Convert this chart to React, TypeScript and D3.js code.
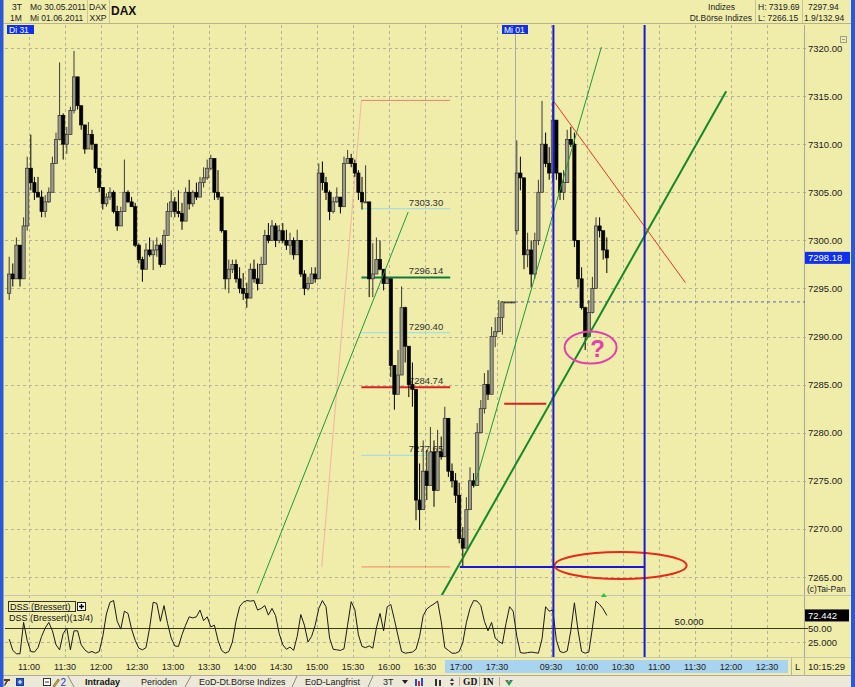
import React from "react";
import * as d3 from "d3";

// ---------- data ----------
// Day 1 (Di 31.05.2011) 3-minute candles starting 10:42, open = previous close
const day1Open = 7294.5;
const day1High = [
  7298.3, 7297.6, 7300.3, 7299.0, 7302.4, 7308.7, 7311.0, 7306.6, 7306.6, 7305.2,
  7304.7, 7305.5, 7308.7, 7311.2, 7318.5, 7313.2, 7311.8, 7313.9, 7319.69, 7316.0,
  7313.6, 7310.7, 7312.3, 7311.5, 7309.4, 7307.0, 7305.2, 7304.9, 7305.5, 7305.2,
  7303.6, 7303.5, 7308.4, 7305.2, 7304.5, 7303.9, 7299.7, 7298.3, 7299.7, 7300.3,
  7300.0, 7300.3, 7299.7, 7301.1, 7303.9, 7305.2, 7304.5, 7305.2, 7303.9, 7305.5,
  7306.3, 7305.2, 7306.0, 7306.6, 7307.6, 7308.4, 7308.9, 7307.6, 7307.3, 7304.2,
  7298.3, 7298.0, 7298.0, 7298.0, 7297.2, 7296.6, 7295.6, 7297.6, 7298.0, 7297.6,
  7298.3, 7301.1, 7301.8, 7302.1, 7301.8, 7301.6, 7301.8, 7301.1, 7300.8, 7300.3,
  7301.1, 7299.3, 7296.9, 7296.2, 7297.2, 7297.2, 7308.0, 7308.2, 7306.6, 7305.2,
  7304.5, 7305.5, 7304.5, 7308.7, 7309.4, 7309.0, 7308.4, 7307.3, 7306.6, 7307.8,
  7303.2, 7299.7, 7300.3, 7300.0, 7296.9, 7296.2, 7295.9, 7286.5, 7288.6, 7295.2,
  7293.1, 7287.6, 7287.3, 7282.7, 7276.8, 7279.2, 7278.2, 7280.6, 7279.2, 7280.3,
  7279.6, 7282.7, 7280.3, 7276.8, 7275.8, 7274.8, 7270.2, 7273.3, 7276.4, 7275.8,
  7281.0, 7283.4, 7286.2, 7286.5, 7291.0, 7292.0, 7293.8, 7293.7, 7293.6, 7293.6,
  7293.6,
];
const day1Low = [
  7293.8, 7295.2, 7297.2, 7295.2, 7298.0, 7301.0, 7305.2, 7304.2, 7304.5, 7302.4,
  7302.4, 7303.9, 7306.3, 7308.0, 7310.4, 7308.4, 7309.0, 7311.5, 7313.2, 7313.6,
  7311.5, 7309.0, 7309.7, 7309.4, 7307.0, 7305.0, 7303.2, 7303.5, 7304.2, 7302.8,
  7301.0, 7302.1, 7303.5, 7303.9, 7303.5, 7299.3, 7297.6, 7295.7, 7297.6, 7298.3,
  7296.9, 7298.3, 7297.2, 7298.0, 7301.1, 7302.4, 7302.4, 7302.4, 7301.1, 7303.2,
  7303.2, 7303.5, 7304.2, 7304.5, 7305.5, 7306.3, 7307.3, 7304.2, 7304.2, 7300.8,
  7294.9, 7294.5, 7296.6, 7295.6, 7294.5, 7293.8, 7293.0, 7294.8, 7295.6, 7294.8,
  7296.9, 7298.3, 7299.7, 7300.3, 7299.3, 7299.7, 7299.7, 7299.0, 7298.5, 7298.0,
  7299.3, 7296.2, 7294.3, 7294.8, 7295.9, 7295.6, 7296.9, 7305.2, 7304.2, 7302.1,
  7302.8, 7303.9, 7302.8, 7304.2, 7308.0, 7307.6, 7306.6, 7304.2, 7303.2, 7303.9,
  7294.1, 7294.1, 7297.6, 7296.9, 7294.8, 7295.6, 7285.8, 7282.4, 7284.4, 7288.6,
  7287.3, 7283.7, 7282.7, 7270.9, 7269.9, 7273.7, 7273.0, 7275.1, 7272.3, 7276.4,
  7277.2, 7280.0, 7275.4, 7274.3, 7272.7, 7268.5, 7266.15, 7269.6, 7273.0, 7274.3,
  7275.1, 7280.3, 7282.0, 7283.4, 7286.2, 7288.9, 7290.7, 7290.2, 7293.6, 7293.6,
  7293.6,
];
const day1Close = [
  7296.5, 7296.0, 7299.5, 7296.0, 7301.5, 7307.5, 7306.0, 7305.0, 7304.5, 7303.0,
  7304.0, 7305.0, 7308.0, 7310.5, 7313.0, 7310.0, 7311.0, 7313.5, 7317.0, 7314.0,
  7312.0, 7309.5, 7311.0, 7310.0, 7307.5, 7305.5, 7303.8, 7304.5, 7305.0, 7303.0,
  7301.5, 7303.0, 7305.0, 7304.0, 7303.5, 7299.5, 7298.0, 7297.0, 7299.0, 7298.5,
  7299.0, 7299.5, 7297.5, 7300.5, 7303.0, 7304.0, 7303.0, 7302.8, 7302.0, 7305.0,
  7303.8, 7305.0, 7304.5, 7306.0, 7306.5, 7307.5, 7308.5, 7305.0, 7304.5, 7301.0,
  7296.0, 7297.0, 7297.5, 7296.0, 7295.0, 7294.5, 7294.0, 7297.0, 7296.0, 7295.5,
  7297.5, 7300.5, 7300.0, 7301.5, 7300.0, 7301.0, 7300.0, 7299.5, 7300.0, 7298.5,
  7300.0, 7296.5, 7295.0, 7295.5, 7296.5, 7296.0, 7307.0, 7306.0, 7305.0, 7303.0,
  7304.0, 7304.5, 7303.5, 7308.0, 7308.5, 7308.0, 7307.0, 7305.0, 7304.0, 7304.0,
  7296.0, 7296.5, 7298.0, 7297.0, 7295.5, 7296.0, 7287.0, 7284.0, 7286.0, 7293.0,
  7289.0, 7285.0, 7284.5, 7273.0, 7272.0, 7276.0, 7274.5, 7278.0, 7274.0, 7278.0,
  7277.5, 7281.5, 7276.0, 7275.0, 7273.5, 7269.0, 7268.0, 7272.0, 7275.0, 7274.5,
  7280.0, 7282.5, 7285.0, 7284.0, 7290.0, 7290.5, 7292.0, 7293.6, 7293.6, 7293.6,
  7293.6,
];
// Day 2 (Mi 01.06.2011) 3-minute candles starting 09:00
const day2Open = 7301.0;
const day2High = [
  7310.4, 7308.7, 7302.8, 7300.8, 7300.0, 7300.8, 7306.3, 7314.5, 7311.2, 7309.7,
  7314.4, 7310.4, 7307.0, 7307.3, 7311.5, 7311.8, 7311.2, 7299.0, 7297.2, 7293.1,
  7293.8, 7296.2, 7302.4, 7302.4, 7300.8, 7300.3,
];
const day2Low = [
  7300.6, 7305.2, 7297.0, 7297.2, 7295.1, 7296.0, 7299.5, 7305.0, 7307.6, 7306.3,
  7306.0, 7306.3, 7304.2, 7304.2, 7306.0, 7309.7, 7299.3, 7295.1, 7292.8, 7288.6,
  7290.7, 7292.4, 7295.0, 7300.3, 7298.0, 7296.6,
];
const day2Close = [
  7307.0, 7306.5, 7298.5, 7299.0, 7296.5, 7300.0, 7305.0, 7310.0, 7308.0, 7307.0,
  7312.5, 7307.0, 7305.0, 7306.0, 7310.5, 7310.0, 7300.0, 7296.0, 7293.0, 7290.0,
  7292.5, 7295.0, 7301.5, 7301.0, 7299.0, 7298.18,
];
// DSS (Bressert)(13/4) per 3-minute slot
const dssDay1 = [
  30, 10, 4, 4, 60, 28, 8, 7, 15, 35,
  50, 60, 45, 20, 11, 40, 50, 11, 45, 45,
  20, 11, 6, 8, 5, 8, 35, 75, 96, 99,
  62, 48, 80, 76, 48, 28, 14, 11, 15, 50,
  96, 94, 62, 90, 58, 32, 18, 17, 38, 55,
  70, 68, 70, 82, 63, 70, 52, 55, 28, 10,
  5, 8, 25, 62, 88, 96, 99, 98, 99, 82,
  85, 90, 73, 85, 72, 40, 20, 12, 16, 10,
  35, 74, 55, 25, 35, 55, 85, 99, 88, 32,
  12, 11, 10, 13, 55, 97, 83, 38, 17, 15,
  18, 14, 50, 76, 45, 88, 92, 65, 36, 8,
  5, 6, 7, 12, 35, 72, 84, 89, 93, 98,
  62, 15, 10, 5, 5, 8, 24, 60, 85, 99,
  98, 90, 62, 45, 60, 32, 26, 22, 58, 88,
  80,
];
const dssDay2 = [
  35, 6, 5, 6, 7, 6, 5, 30, 88, 80,
  82, 28, 8, 6, 9, 45, 95, 46, 8, 5,
  7, 50, 98, 92, 84, 72.442,
];

const priceTicks = [7320, 7315, 7310, 7305, 7300, 7295, 7290, 7285, 7280, 7275, 7270, 7265];
const timeLabelsDay1 = ["11:00", "11:30", "12:00", "12:30", "13:00", "13:30", "14:00", "14:30", "15:00", "15:30", "16:00", "16:30", "17:00", "17:30"];
const timeLabelsDay2 = ["09:30", "10:00", "10:30", "11:00", "11:30", "12:00", "12:30"];
const fibLevels = [7303.3, 7296.14, 7290.4, 7284.74, 7277.65];
const fibHigh = 7314.55;
const fibLow = 7266.05;
const lastPrice = 7298.18;
const prevClose = 7293.6;
const lastDss = 72.442;

// trading minute: day1 10:00 -> 0, day1 17:45 == day2 09:00 -> 465
const tm = (day: number, hhmm: string): number => {
  const [h, m] = hhmm.split(":").map(Number);
  const mins = h * 60 + m;
  return day === 1 ? mins - 600 : mins - 540 + 465;
};

const FONT = "'Liberation Sans', Arial, sans-serif";
const BG = "#F0ECAA";

export default function App() {
  const x = d3.scaleLinear().domain([tm(1, "11:00"), tm(2, "12:30")]).range([29, 767]);
  const y = d3.scaleLinear().domain([7265, 7320]).range([577, 48]);
  const yd = d3.scaleLinear().domain([0, 100]).range([656, 600]);

  type C = { t: number; o: number; h: number; l: number; c: number };
  const candles: C[] = [];
  day1Close.forEach((c, i) =>
    candles.push({ t: tm(1, "10:42") + 3 * i, o: i === 0 ? day1Open : day1Close[i - 1], h: day1High[i], l: day1Low[i], c })
  );
  day2Close.forEach((c, i) =>
    candles.push({ t: tm(2, "09:00") + 3 * i, o: i === 0 ? day2Open : day2Close[i - 1], h: day2High[i], l: day2Low[i], c })
  );
  const dss = [...dssDay1, ...dssDay2].map((v, i) => ({ t: candles[i].t + 1.5, v }));
  const dssLine = d3.line<{ t: number; v: number }>().x((d) => x(d.t)).y((d) => yd(d.v));

  const timeTicks = [
    ...timeLabelsDay1.map((l) => ({ l, t: tm(1, l) })),
    ...timeLabelsDay2.map((l) => ({ l, t: tm(2, l) })),
  ];
  const dayBreak = x(tm(2, "09:00"));

  const fibStyles = [
    { stroke: "#A8E0DC", w: 1.2 },
    { stroke: "#0E7A3A", w: 2 },
    { stroke: "#A8E0DC", w: 1.2 },
    { stroke: "#D82020", w: 2 },
    { stroke: "#A8E0DC", w: 1.2 },
  ];
  const fibX0 = x(tm(1, "15:37"));
  const fibX1 = x(tm(1, "16:51"));

  const seg = (d1: number, t1: string, p1: number, d2: number, t2: string, p2: number) => ({
    x1: x(tm(d1, t1)), y1: y(p1), x2: x(tm(d2, t2)), y2: y(p2),
  });
  const green1 = seg(1, "14:10", 7263.3, 1, "16:16", 7302.95);
  const green2 = seg(1, "17:11", 7274.4, 2, "10:12", 7320.1);
  const green3 = seg(1, "16:44", 7263.1, 2, "11:56", 7315.5);
  const redDiag = seg(2, "09:32", 7314.5, 2, "11:22", 7295.6);
  const fibDiag = seg(1, "15:04", fibLow, 1, "15:37", fibHigh);
  const blueV1 = x(tm(2, "09:32"));
  const blueV2 = x(tm(2, "10:48"));
  const blueH = { x1: x(tm(1, "16:59")), x2: blueV2, y: y(7266.05) };
  const redShort = { x1: x(tm(1, "17:36")), x2: x(tm(2, "09:26")), y: y(7283.0) };
  const pinkEll = { cx: x(tm(2, "10:03")), cy: y(7288.86) };
  const redEll = { cx: x(tm(2, "10:28")), cy: y(7266.2) };

  const step = x(3) - x(0);
  const bw = step * 0.88;

  return (
    <svg width={855} height={687} style={{ position: "absolute", left: 0, top: 0, display: "block" }}>
      <defs>
        <clipPath id="main">
          <rect x={5} y={25} width={800} height={571} />
        </clipPath>
      </defs>
      <rect x={0} y={0} width={855} height={687} fill={BG} />

      {/* header */}
      <g fontFamily={FONT} fontSize={8.5} fill="#222">
        <text x={12} y={9.5}>3T</text>
        <text x={10} y={20.5}>1M</text>
        <text x={30} y={9.5}>Mo 30.05.2011</text>
        <text x={30} y={20.5}>Mi 01.06.2011</text>
        <text x={89} y={9.5}>DAX</text>
        <text x={89.5} y={20.5}>XXP</text>
        <text x={111} y={15} fontSize={12} fontWeight="bold" fill="#111">DAX</text>
        <text x={735} y={9.5} textAnchor="end">Indizes</text>
        <text x={752} y={20.5} textAnchor="end">Dt.Börse Indizes</text>
        <text x={758} y={9.5}>H: 7319.69</text>
        <text x={758} y={20.5}>L: 7266.15</text>
        <text x={808} y={9.5}>7297.94</text>
        <text x={804} y={20.5}>1.9/132.94</text>
      </g>
      <line x1={87.5} x2={87.5} y1={0} y2={23} stroke="#C8C49A" />
      <line x1={109.5} x2={109.5} y1={0} y2={23} stroke="#C8C49A" />
      <line x1={755.5} x2={755.5} y1={0} y2={23} stroke="#C8C49A" />
      <line x1={802.5} x2={802.5} y1={0} y2={23} stroke="#C8C49A" />
      <line x1={4} x2={851} y1={23.5} y2={23.5} stroke="#B8B48A" />

      {/* grid */}
      <g stroke="#B4B29A" strokeWidth={1} strokeDasharray="3,3">
        {priceTicks.map((p) => (
          <line key={p} x1={5} x2={808} y1={Math.round(y(p)) + 0.5} y2={Math.round(y(p)) + 0.5} />
        ))}
        {timeTicks.map((d, i) => (
          <line key={i} x1={Math.round(x(d.t)) + 0.5} x2={Math.round(x(d.t)) + 0.5} y1={25} y2={657} />
        ))}
        <line x1={5} x2={808} y1={Math.round(yd(25)) + 0.5} y2={Math.round(yd(25)) + 0.5} />
      </g>
      <line x1={Math.round(dayBreak) + 0.5} x2={Math.round(dayBreak) + 0.5} y1={25} y2={657} stroke="#A8A8A8" />
      <line x1={804.5} x2={804.5} y1={25} y2={657} stroke="#A8A89A" />

      {/* day labels */}
      <rect x={7} y={25} width={27} height={9} fill="#1030E8" />
      <text x={9} y={32.5} fontFamily={FONT} fontSize={8.5} fill="#fff">Di 31</text>
      <rect x={dayBreak - 13} y={25} width={26} height={9} fill="#1030E8" />
      <text x={dayBreak - 11} y={32.5} fontFamily={FONT} fontSize={8.5} fill="#fff">Mi 01</text>

      <g clipPath="url(#main)">
        {/* fibonacci */}
        <line {...fibDiag} stroke="#F2B4A4" strokeWidth={1} />
        <line x1={fibX0} x2={fibX1} y1={y(fibHigh)} y2={y(fibHigh)} stroke="#EE8070" strokeWidth={1} />
        <line x1={fibX0} x2={fibX1} y1={y(fibLow)} y2={y(fibLow)} stroke="#EE8A60" strokeWidth={1} />
        {fibLevels.map((p, i) => (
          <g key={p}>
            <line x1={fibX0} x2={fibX1} y1={y(p)} y2={y(p)} stroke={fibStyles[i].stroke} strokeWidth={fibStyles[i].w} />
            <text x={fibX1 - 7} y={y(p) - 3} textAnchor="end" fontFamily={FONT} fontSize={9.5} fill="#333">
              {p.toFixed(2)}
            </text>
          </g>
        ))}

        {/* previous close dotted line */}
        <line x1={dayBreak} x2={805} y1={y(prevClose)} y2={y(prevClose)} stroke="#5A64B8" strokeDasharray="3,3" />

        {/* candles */}
        {candles.map((d, i) => {
          const top = Math.max(d.o, d.c);
          const bot = Math.min(d.o, d.c);
          const hi = Math.max(d.h, top);
          const lo = Math.min(d.l, bot);
          const up = d.c >= d.o;
          const cx = x(d.t + 1.5);
          return (
            <g key={i}>
              <line x1={cx} x2={cx} y1={y(hi)} y2={y(lo)} stroke={up ? "#3A3A3A" : "#000"} strokeWidth={1} />
              <rect
                x={cx - bw / 2}
                width={bw}
                y={y(top)}
                height={Math.max(1, y(bot) - y(top))}
                fill={up ? "#9C9A88" : "#000"}
                stroke={up ? "#303030" : "#000"}
                strokeWidth={0.7}
              />
            </g>
          );
        })}

        {/* trend lines */}
        <line {...green1} stroke="#1E9A3A" strokeWidth={1} />
        <line {...green2} stroke="#1E9A3A" strokeWidth={1} />
        <line {...green3} stroke="#15882A" strokeWidth={2} />
        <line {...redDiag} stroke="#E83A24" strokeWidth={1} />
        <line x1={redShort.x1} x2={redShort.x2} y1={redShort.y} y2={redShort.y} stroke="#D82020" strokeWidth={2} />
        <line x1={blueH.x1} x2={blueH.x2} y1={blueH.y} y2={blueH.y} stroke="#1818D8" strokeWidth={2} />

        {/* annotations */}
        <ellipse cx={pinkEll.cx} cy={pinkEll.cy} rx={26} ry={16} fill="none" stroke="#E040B0" strokeWidth={2} />
        <text x={pinkEll.cx + 7} y={pinkEll.cy + 9} textAnchor="middle" fontFamily={FONT} fontWeight="bold" fontSize={24} fill="#E040B0">?</text>
        <ellipse cx={redEll.cx} cy={redEll.cy} rx={66} ry={13.5} fill="none" stroke="#E82818" strokeWidth={2} />
      </g>

      {/* panel separator */}
      <line x1={4} x2={851} y1={595.5} y2={595.5} stroke="#C8C6A8" />

      {/* DSS panel */}
      <line x1={5} x2={808} y1={Math.round(yd(50)) + 0.5} y2={Math.round(yd(50)) + 0.5} stroke="#3A3A1A" strokeWidth={1} />
      <path d={dssLine(dss) || ""} fill="none" stroke="#1A1A1A" strokeWidth={1} />
      <path d={`M${x(tm(2, "10:14")) - 3},${597} l3,-4 l3,4 z`} fill="#2EC040" />
      <text x={x(tm(2, "11:13"))} y={yd(50) - 3} fontFamily={FONT} fontSize={9.5} fill="#222">50.000</text>
      <rect x={8.5} y={601.5} width={67} height={10} fill="none" stroke="#333" strokeWidth={1} />
      <text x={10} y={610} fontFamily={FONT} fontSize={9} fill="#111">DSS (Bressert)</text>
      <rect x={77.5} y={602.5} width={8} height={8} fill="#fff" stroke="#222" />
      <path d="M79,606.5 h5 M81.5,604 v5" stroke="#000" strokeWidth={1.4} />
      <text x={9} y={620.5} fontFamily={FONT} fontSize={9} fill="#111">DSS (Bressert)(13/4)</text>

      {/* blue verticals */}
      <line x1={blueV1} x2={blueV1} y1={25} y2={657} stroke="#1818D8" strokeWidth={2} />
      <line x1={blueV2} x2={blueV2} y1={25} y2={657} stroke="#1818D8" strokeWidth={2} />

      {/* right price axis */}
      <g fontFamily={FONT} fontSize={9.5} fill="#222">
        {priceTicks.map((p) => (
          <text key={p} x={808} y={y(p) + 3.5}>{p.toFixed(2)}</text>
        ))}
        <text x={807} y={592} fontSize={8.5}>(c)Tai-Pan</text>
        <text x={808} y={yd(50) + 3.5}>50.00</text>
        <text x={808} y={yd(25) + 3.5}>25.000</text>
      </g>
      <rect x={805} y={y(lastPrice) - 6} width={45} height={12} fill="#1030F0" />
      <text x={808} y={y(lastPrice) + 3.5} fontFamily={FONT} fontSize={9.5} fill="#fff">{lastPrice.toFixed(2)}</text>
      <rect x={805} y={yd(lastDss) - 6} width={44} height={12} fill="#000" />
      <text x={808} y={yd(lastDss) + 3.5} fontFamily={FONT} fontSize={9.5} fill="#fff">{lastDss.toFixed(3)}</text>
      <rect x={840.5} y={36.5} width={6} height={6} fill="none" stroke="#A0A090" />
      <line x1={842} x2={845} y1={39.5} y2={39.5} stroke="#A0A090" />

      {/* time axis */}
      <line x1={4} x2={851} y1={657.5} y2={657.5} stroke="#C8C6A8" />
      <rect x={445} y={660} width={343} height={13} fill="#A8D4F0" />
      <g fontFamily={FONT} fontSize={9} fill="#222" textAnchor="middle">
        {timeTicks.map((d, i) => (
          <text key={i} x={x(d.t)} y={670}>{d.l}</text>
        ))}
      </g>
      <line x1={791.5} x2={791.5} y1={658} y2={675} stroke="#B8B6A0" />
      <text x={795} y={670} fontFamily={FONT} fontSize={9.5} fill="#222">L</text>
      <line x1={804.5} x2={804.5} y1={658} y2={675} stroke="#B8B6A0" />
      <text x={808} y={670} fontFamily={FONT} fontSize={9.5} fill="#222">10:15:29</text>

      {/* bottom tab bar */}
      <rect x={0} y={675} width={855} height={12} fill="#ECE9D8" />
      <line x1={0} x2={855} y1={675.5} y2={675.5} stroke="#B0AC98" />
      <g>
        <path d="M4,679 l6,0 l0,2 l-2,0 l-3,5 l-1,-1 l2,-4 l-2,0 z" fill="#5A3A10" />
        <rect x={16.5} y={678.5} width={7} height={7} fill="#2A5AD0" stroke="#1A3A90" />
        <path d="M18,682 h4 M20,680 v4" stroke="#fff" strokeWidth={1} />
        <rect x={43.5} y={678.5} width={7} height={7} fill="#fff" stroke="#333" />
        <line x1={45} x2={49} y1={682} y2={682} stroke="#333" />
        <path d="M53,686 l5,-7 l1.5,1 l-5,7 z" fill="#D8B020" stroke="#333" strokeWidth={0.5} />
        <text x={60.5} y={685.5} fontFamily={FONT} fontSize={10} fill="#2040C0">2</text>
        <line x1={68} x2={74} y1={676} y2={687} stroke="#8A8878" />
        <text x={85} y={685} fontFamily={FONT} fontSize={9} fontWeight="bold" fill="#111">Intraday</text>
        <text x={141} y={685} fontFamily={FONT} fontSize={9} fill="#222">Perioden</text>
        <line x1={185} x2={191} y1={687} y2={676} stroke="#8A8878" />
        <text x={199} y={685} fontFamily={FONT} fontSize={9} fill="#222">EoD-Dt.Börse Indizes</text>
        <line x1={292} x2={297} y1={687} y2={676} stroke="#8A8878" />
        <text x={305} y={685} fontFamily={FONT} fontSize={9} fill="#222">EoD-Langfrist</text>
        <line x1={368} x2={373} y1={687} y2={676} stroke="#8A8878" />
        <text x={383} y={685} fontFamily={FONT} fontSize={9} fill="#222">3T</text>
        <path d="M402,680 h6 l-3,4 z" fill="#222" />
        <rect x={415} y={679} width={2} height={7} fill="#2050C0" />
        <rect x={418} y={681} width={2} height={5} fill="#D03030" />
        <rect x={421} y={678} width={2} height={8} fill="#2050C0" />
        <rect x={435} y={679} width={2} height={7} fill="#333" />
        <rect x={439} y={680} width={2} height={6} fill="#333" />
        <path d="M450,681 l2,-3 l2,3 z M450,683 l2,3 l2,-3 z" fill="#333" />
        <line x1={459.5} x2={459.5} y1={677} y2={686} stroke="#B0AC98" />
        <text x={463} y={685} fontFamily="'Liberation Serif', serif" fontSize={9.5} fontWeight="bold" fill="#111">GD</text>
        <line x1={479.5} x2={479.5} y1={677} y2={686} stroke="#B0AC98" />
        <text x={483} y={685} fontFamily="'Liberation Serif', serif" fontSize={9.5} fontWeight="bold" fill="#111">IN</text>
        <line x1={499.5} x2={499.5} y1={677} y2={686} stroke="#B0AC98" />
        <path d="M505,680 l3,0 l1,2 z" fill="#D02020" />
        <path d="M509,682 l1,-2 l3,0 z" fill="#2040D0" />
        <path d="M505,680 l4,6 l4,-6 l-4,2 z" fill="#20A040" />
      </g>

      {/* window borders */}
      <rect x={0} y={0} width={3.5} height={687} fill="#2B58D8" />
      <rect x={851} y={0} width={4} height={687} fill="#2B58D8" />
    </svg>
  );
}
